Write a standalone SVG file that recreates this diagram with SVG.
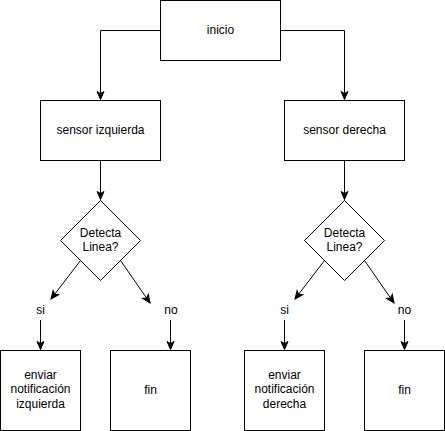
<svg xmlns="http://www.w3.org/2000/svg" width="445" height="431" viewBox="0 0 445 431">
<style>
.n{fill:#fff;stroke:#000;stroke-width:1}
.t{font-family:"Liberation Sans",Arial,sans-serif;font-size:12px;fill:#000;text-anchor:middle}
.c{fill:none;stroke:#000;stroke-width:1}
</style>
<defs>
<marker id="ah" markerUnits="userSpaceOnUse" markerWidth="10" markerHeight="10" refX="8" refY="3.5" orient="auto" overflow="visible">
<path d="M0,0 L8,3.5 L0,7 L2,3.5 Z" fill="#000" stroke="#000" stroke-width="1" stroke-linejoin="miter"/>
</marker>
</defs>
<rect width="445" height="431" fill="#fff"/>
<g id="connectors">
<path class="c" d="M160.5,30.5 H100.5 V99.5" marker-end="url(#ah)"/>
<path class="c" d="M280.5,30.5 H344.5 V99.5" marker-end="url(#ah)"/>
<path class="c" d="M100.5,160.5 V199.5" marker-end="url(#ah)"/>
<path class="c" d="M344.5,160.5 V199.5" marker-end="url(#ah)"/>
<path class="c" d="M80.5,260.5 L51,299" marker-end="url(#ah)"/>
<path class="c" d="M120.5,260.5 L150,303" marker-end="url(#ah)"/>
<path class="c" d="M324.5,260.5 L295,299" marker-end="url(#ah)"/>
<path class="c" d="M364.5,260.5 L394,303" marker-end="url(#ah)"/>
<path class="c" d="M40.5,320 V349.5" marker-end="url(#ah)"/>
<path class="c" d="M170.5,320 V349.5" marker-end="url(#ah)"/>
<path class="c" d="M284.5,320 V349.5" marker-end="url(#ah)"/>
<path class="c" d="M404.5,320 V349.5" marker-end="url(#ah)"/>
</g>
<g id="inicio"><rect class="n" x="160.5" y="0.5" width="120" height="60"/><text class="t" x="220.5" y="34">inicio</text></g>
<g id="sensor-izquierda"><rect class="n" x="40.5" y="100.5" width="120" height="60"/><text class="t" x="100.5" y="134">sensor izquierda</text></g>
<g id="sensor-derecha"><rect class="n" x="284.5" y="100.5" width="120" height="60"/><text class="t" x="344.5" y="134">sensor derecha</text></g>
<g id="decision-izquierda"><path class="n" d="M100.5,200.5 L140.5,240.5 L100.5,280.5 L60.5,240.5 Z"/><text class="t" x="100.5" y="236.5">Detecta</text><text class="t" x="100.5" y="251">Linea?</text></g>
<g id="decision-derecha"><path class="n" d="M344.5,200.5 L384.5,240.5 L344.5,280.5 L304.5,240.5 Z"/><text class="t" x="344.5" y="236.5">Detecta</text><text class="t" x="344.5" y="251">Linea?</text></g>
<g id="si-izquierda"><text class="t" x="40.5" y="313.5">si</text></g>
<g id="no-izquierda"><text class="t" x="171" y="313.5">no</text></g>
<g id="si-derecha"><text class="t" x="284.5" y="313.5">si</text></g>
<g id="no-derecha"><text class="t" x="404.5" y="313.5">no</text></g>
<g id="enviar-izquierda"><rect class="n" x="0.5" y="350.5" width="80" height="80"/><text class="t" x="40.5" y="378.5">enviar</text><text class="t" x="40.5" y="393">notificación</text><text class="t" x="40.5" y="407.5">izquierda</text></g>
<g id="fin-izquierda"><rect class="n" x="110.5" y="350.5" width="80" height="80"/><text class="t" x="150.5" y="394">fin</text></g>
<g id="enviar-derecha"><rect class="n" x="244.5" y="350.5" width="80" height="80"/><text class="t" x="284.5" y="378.5">enviar</text><text class="t" x="284.5" y="393">notificación</text><text class="t" x="284.5" y="407.5">derecha</text></g>
<g id="fin-derecha"><rect class="n" x="364.5" y="350.5" width="80" height="80"/><text class="t" x="404.5" y="394">fin</text></g>
</svg>
